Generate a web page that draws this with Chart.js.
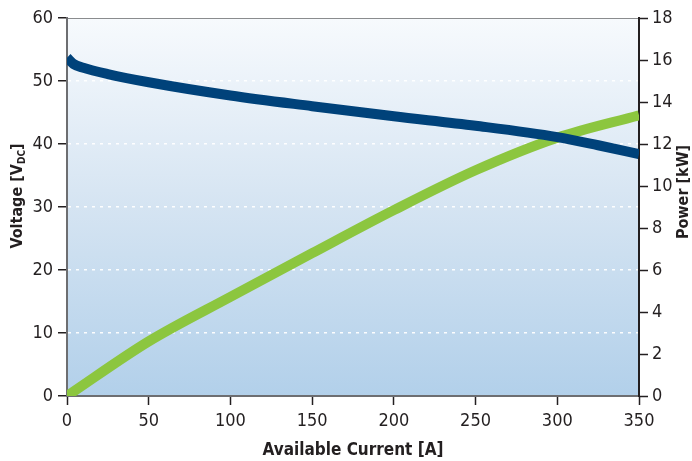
<!DOCTYPE html>
<html>
<head>
<meta charset="utf-8">
<script src="https://cdn.jsdelivr.net/npm/chart.js@4.4.1/dist/chart.umd.min.js"></script>
<style>
  html, body { margin: 0; padding: 0; background: #fff; }
  #wrap { width: 692px; height: 461px; position: relative; }
</style>
</head>
<body>
<div id="wrap"><canvas id="chart"></canvas></div>
<script>
// values
const voltCurrent = [0, 4, 10, 25, 50, 100, 150, 200, 250, 300, 325, 350];
const voltage     = [53.7, 52.7, 52.1, 51.1, 49.8, 47.7, 46.0, 44.4, 42.9, 41.1, 39.8, 38.4];

const powerCurrent = [0, 50, 100, 150, 200, 250, 300, 350];
const power        = [0, 2.6, 4.72, 6.8, 8.85, 10.75, 12.3, 13.37];

const xTicks = [0, 50, 100, 150, 200, 250, 300, 350];

const FONT = '"Liberation Sans Narrow", "DejaVu Sans Condensed", "Roboto", sans-serif';
const INK = '#231f20';

const toPoints = (xs, ys) => xs.map((x, i) => ({ x: x, y: ys[i] }));

const plotBg = {
  id: 'plotBg',
  beforeDraw(chart) {
    const { ctx, chartArea: a } = chart;
    const g = ctx.createLinearGradient(0, a.top, 0, a.bottom);
    g.addColorStop(0, '#f7fafd');
    g.addColorStop(0.5, '#d5e4f2');
    g.addColorStop(1, '#b2d0ea');
    ctx.save();
    ctx.fillStyle = g;
    ctx.fillRect(a.left, a.top, a.right - a.left, a.bottom - a.top);
    ctx.strokeStyle = '#8a8c8e';
    ctx.lineWidth = 1;
    ctx.beginPath();
    ctx.moveTo(a.left, a.top + 0.5);
    ctx.lineTo(a.right, a.top + 0.5);
    ctx.stroke();
    ctx.restore();
  },
  afterDraw(chart) {
    const { ctx } = chart;
    ctx.save();
    ctx.fillStyle = INK;
    // left title with subscript
    ctx.translate(18, 196);
    ctx.rotate(-Math.PI / 2);
    ctx.textBaseline = 'middle';
    const big = 'bold 16px ' + FONT, small = 'bold 10px ' + FONT;
    ctx.font = big;
    const w1 = ctx.measureText('Voltage [V').width;
    const w3 = ctx.measureText(']').width;
    ctx.font = small;
    const w2 = ctx.measureText('DC').width;
    let x = -(w1 + w2 + w3) / 2;
    ctx.font = big;
    ctx.textAlign = 'left';
    ctx.fillText('Voltage [V', x, 0);
    ctx.font = small;
    ctx.fillText('DC', x + w1, 4);
    ctx.font = big;
    ctx.fillText(']', x + w1 + w2, 0);
    ctx.restore();

    ctx.save();
    ctx.fillStyle = INK;
    ctx.translate(684, 192);
    ctx.rotate(-Math.PI / 2);
    ctx.textAlign = 'center';
    ctx.textBaseline = 'middle';
    ctx.font = big;
    ctx.fillText('Power [kW]', 0, 0);
    ctx.restore();
  }
};

const gridColor = (lo, hi) => c =>
  (c.tick && (c.tick.value === lo || c.tick.value === hi)) ? 'rgba(0,0,0,0)' : 'rgba(255,255,255,0.95)';

new Chart(document.getElementById('chart'), {
  type: 'line',
  data: {
    datasets: [
      {
        label: 'Voltage',
        data: toPoints(voltCurrent, voltage),
        yAxisID: 'y',
        borderColor: '#00427a',
        borderWidth: 10,
        pointRadius: 0,
        cubicInterpolationMode: 'monotone',
        borderCapStyle: 'butt'
      },
      {
        label: 'Power',
        data: toPoints(powerCurrent, power),
        yAxisID: 'y1',
        borderColor: '#8cc63f',
        borderWidth: 10,
        pointRadius: 0,
        cubicInterpolationMode: 'monotone',
        borderCapStyle: 'butt'
      }
    ]
  },
  options: {
    responsive: true,
    maintainAspectRatio: false,
    animation: false,
    clip: { left: 0, top: 0, right: 0, bottom: 0 },
    layout: { padding: { top: 18, left: 0, right: 0, bottom: 0 } },
    plugins: { legend: { display: false }, tooltip: { enabled: false } },
    scales: {
      x: {
        type: 'linear',
        min: 0, max: 350,
        afterBuildTicks: s => { s.ticks = xTicks.map(v => ({ value: v })); },
        afterFit: s => { s.height = 65; },
        grid: { drawOnChartArea: false, tickLength: 9, tickColor: INK, tickWidth: 1.5 },
        border: { color: '#6d6e71', width: 2 },
        ticks: { color: INK, font: { family: FONT, size: 18 }, padding: 6 },
        title: { display: true, text: 'Available Current [A]', color: INK,
                 font: { family: FONT, size: 17, weight: 'bold' }, padding: { top: 10, bottom: 0 } }
      },
      y: {
        position: 'left',
        min: 0, max: 60,
        ticks: { stepSize: 10, color: INK, font: { family: FONT, size: 18 }, padding: 5 },
        afterFit: s => { s.width = 67; },
        grid: { color: gridColor(0, 60), lineWidth: 1.5, tickLength: 9, tickColor: INK, tickWidth: 1.5 },
        border: { color: '#6d6e71', width: 2, dash: [3, 5] }
      },
      y1: {
        position: 'right',
        min: 0, max: 18,
        ticks: { stepSize: 2, color: INK, font: { family: FONT, size: 18 }, padding: 4 },
        afterFit: s => { s.width = 53; },
        grid: { drawOnChartArea: false, tickLength: 9, tickColor: INK, tickWidth: 1.5 },
        border: { color: INK, width: 2 }
      }
    }
  },
  plugins: [plotBg]
});
</script>
</body>
</html>
